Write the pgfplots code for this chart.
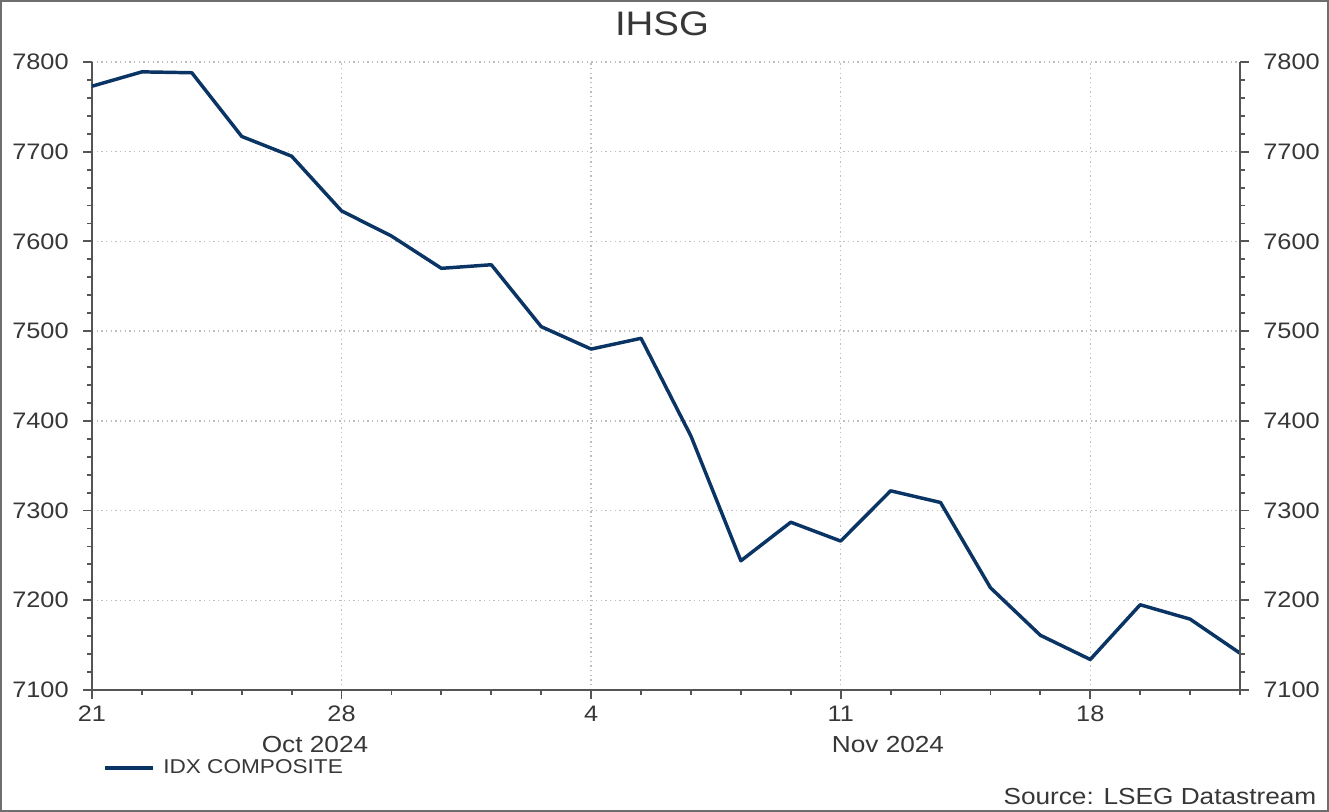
\documentclass[border=0pt]{standalone}
\usepackage{pgfplots}
\pgfplotsset{compat=1.18}
\usepackage{fontspec}
\setmainfont{Liberation Sans}
\usepackage{graphicx}
\definecolor{navy}{RGB}{10,52,100}
\definecolor{axgray}{RGB}{85,85,85}
\definecolor{txt}{RGB}{55,55,55}
\definecolor{gridc}{RGB}{190,190,190}
\definecolor{framec}{RGB}{110,110,110}
\newcommand\sx[1]{\scalebox{1.13}[1]{#1}}
\begin{document}
\begin{tikzpicture}[x=0.75pt,y=0.75pt]
\path[use as bounding box] (0,0) rectangle (1329,812);
\draw[framec, line width=1.6pt] (1.2,1.2) rectangle (1327.8,810.8);
\pgfplotsset{
 base/.style={scale only axis, width=861pt, height=471pt,
  at={(69pt,91.5pt)}, anchor=south west,
  xmin=0, xmax=23, ymin=7100, ymax=7800,
  tick align=outside, major tick length=6.5pt, minor tick length=3.6pt,
  ytick={7100,7200,7300,7400,7500,7600,7700,7800},
  minor y tick num=4,
  yticklabels={\sx{7100},\sx{7200},\sx{7300},\sx{7400},\sx{7500},\sx{7600},\sx{7700},\sx{7800}},
  axis line style={axgray, line width=1.5pt},
  tick style={axgray, line width=1.4pt},
  ticklabel style={font=\fontsize{16.8}{19}\selectfont, text=txt},
 }
}
\begin{axis}[base,
  axis y line*=left, axis x line*=bottom,
  xtick={0,5,10,15,20}, xticklabels={\sx{21},\sx{28},\sx{4},\sx{11},\sx{18}},
  minor xtick={1,2,3,4,6,7,8,9,11,12,13,14,16,17,18,19,21,22,23},
  xmajorgrids, ymajorgrids,
  major grid style={gridc, line width=1.1pt, dash pattern=on 1.1pt off 2.4pt},
  yticklabel style={xshift=-7.5pt},
  xticklabel style={yshift=-2pt},
  legend style={at={(0.0095,-0.124)}, anchor=west, draw=none, fill=none,
    font=\fontsize{15}{17}\selectfont, text=txt, inner sep=0pt,
    nodes={inner sep=2pt}, /tikz/column sep=4.5pt},
  legend cell align=left,
  legend image code/.code={\draw[#1] (0pt,0pt) -- (36pt,0pt);},
]
\addplot[navy, line width=2.6pt, line join=round] coordinates {
(0,7773) (1,7789) (2,7788) (3,7717) (4,7695) (5,7634) (6,7606) (7,7570)
(8,7574) (9,7505) (10,7480) (11,7492) (12,7383) (13,7244) (14,7287) (15,7266)
(16,7322) (17,7309) (18,7214) (19,7161) (20,7134) (21,7195) (22,7179) (23,7141)
};
\addlegendentry{\sx{IDX COMPOSITE}}
\end{axis}
\begin{axis}[base,
  axis y line*=right, axis x line=none,
  yticklabel style={xshift=7.5pt},
]
\end{axis}
\node[font=\fontsize{25.5}{29}\selectfont, text=txt] at (662,788) {\sx{IHSG}};
\node[font=\fontsize{17.4}{20}\selectfont, text=txt] at (315,67) {\sx{Oct 2024}};
\node[font=\fontsize{17.4}{20}\selectfont, text=txt] at (888,67) {\sx{Nov 2024}};
\node[font=\fontsize{17.4}{20}\selectfont, text=txt, anchor=east] at (1321,15) {\sx{Source: LSEG Datastream}};
\end{tikzpicture}
\end{document}
